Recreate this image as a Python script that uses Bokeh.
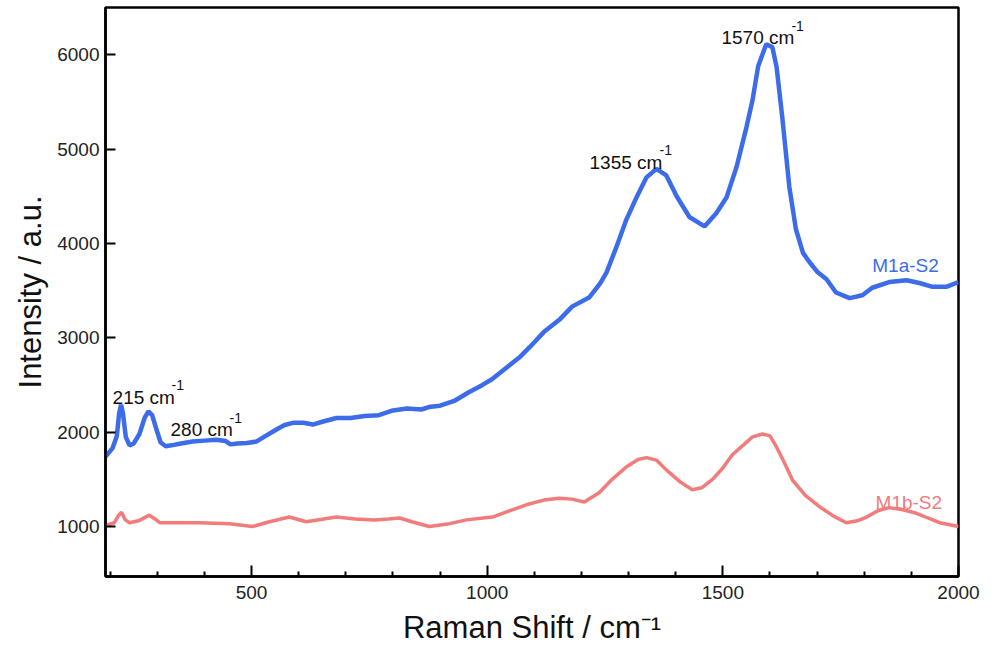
from bokeh.plotting import figure
from bokeh.models import Label, Range1d, FixedTicker
from bokeh.embed import file_html
from bokeh.resources import INLINE

# ---- data ----
shift_a = [190, 205, 214, 219, 223, 227, 233, 241, 250, 262, 273, 281, 289, 298, 307, 318, 330, 350,
           375, 400, 425, 445, 455, 470, 490, 510, 530, 550, 570, 590, 610, 630, 650, 680, 710, 740,
           770, 800, 830, 860, 880, 900, 930, 960, 990, 1010, 1040, 1070, 1090, 1120, 1153, 1180,
           1217, 1240, 1253, 1274, 1295, 1317, 1338, 1359, 1380, 1402, 1429, 1461, 1486, 1508, 1529,
           1550, 1563, 1575, 1592, 1605, 1614, 1626, 1641, 1655, 1670, 1684, 1700, 1720, 1740, 1769,
           1796, 1817, 1853, 1890, 1917, 1945, 1974, 2000]
intensity_a = [1740, 1830, 1960, 2200, 2290, 2200, 1950, 1860, 1880, 1980, 2150, 2220, 2180, 2030,
               1890, 1850, 1860, 1880, 1900, 1910, 1920, 1905, 1870, 1880, 1885, 1900, 1960, 2020,
               2075, 2100, 2100, 2080, 2110, 2150, 2150, 2170, 2180, 2230, 2250, 2240, 2270, 2280,
               2330, 2420, 2500, 2560, 2680, 2800, 2900, 3060, 3190, 3330, 3430, 3580, 3690, 3960,
               4250, 4490, 4700, 4790, 4720, 4500, 4280, 4180, 4320, 4490, 4810, 5230, 5520, 5880,
               6110, 6080, 5870, 5340, 4600, 4150, 3900, 3800, 3700, 3620, 3480, 3420, 3450, 3530,
               3590, 3610, 3580, 3540, 3540, 3590]

shift_b = [190, 209, 218, 224, 232, 241, 260, 283, 295, 305, 332, 389, 453, 502, 538, 580, 616, 680,
           720, 760, 790, 814, 840, 877, 920, 956, 1011, 1050, 1083, 1120, 1153, 1180, 1206, 1238,
           1265, 1295, 1320, 1338, 1360, 1380, 1410, 1435, 1455, 1478, 1500, 1520, 1545, 1563, 1584,
           1600, 1614, 1630, 1648, 1675, 1705, 1735, 1762, 1785, 1805, 1830, 1853, 1880, 1911, 1935,
           1960, 2000]
intensity_b = [1010, 1040, 1120, 1150, 1070, 1040, 1060, 1120, 1080, 1040, 1040, 1040, 1030, 1000,
               1050, 1100, 1050, 1100, 1080, 1070, 1080, 1090, 1050, 1000, 1030, 1070, 1100, 1170,
               1230, 1280, 1300, 1290, 1260, 1360, 1500, 1630, 1710, 1730, 1700, 1600, 1470, 1390,
               1410, 1500, 1620, 1760, 1870, 1950, 1980, 1960, 1840, 1680, 1490, 1330, 1210, 1110,
               1040, 1060, 1100, 1170, 1200, 1180, 1140, 1090, 1040, 1000]

series_names = ["M1a-S2", "M1b-S2"]
peak_labels = ["215 cm", "280 cm", "1355 cm", "1570 cm"]
x_major_ticks = [500, 1000, 1500, 2000]
x_minor_ticks = [200, 300, 400, 600, 700, 800, 900, 1100, 1200, 1300, 1400, 1600, 1700, 1800, 1900]
y_major_ticks = [1000, 2000, 3000, 4000, 5000, 6000]

BLUE = "#3D6CEB"
RED = "#F27B7B"
FONT = "Liberation Sans"

p = figure(frame_width=853, frame_height=569, output_backend="svg", toolbar_location=None,
           x_range=Range1d(190, 2000), y_range=Range1d(470, 6500),
           min_border_left=105, min_border_top=7, min_border_right=25, min_border_bottom=72,
           background_fill_color="white", border_fill_color="white")

p.line(shift_a, intensity_a, line_color=BLUE, line_width=4.5)
p.line(shift_b, intensity_b, line_color=RED, line_width=3.5)

p.xgrid.visible = False
p.ygrid.visible = False
p.outline_line_color = "black"
p.outline_line_width = 2.5
p.outline_line_alpha = 1

for ax in (p.xaxis[0], p.yaxis[0]):
    ax.axis_line_width = 2.5
    ax.axis_line_color = "black"
    ax.major_tick_line_width = 2
    ax.minor_tick_line_width = 2
    ax.major_tick_out = 0
    ax.minor_tick_out = 0
    ax.major_label_text_font = FONT
    ax.major_label_text_font_size = "19px"
    ax.major_label_text_color = "#222222"
    ax.axis_label_text_font = FONT
    ax.axis_label_text_font_style = "normal"
    ax.axis_label_text_font_size = "31px"
    ax.axis_label_text_color = "#111111"

p.xaxis[0].ticker = FixedTicker(ticks=x_major_ticks, minor_ticks=x_minor_ticks)
p.xaxis[0].major_tick_in = 11
p.xaxis[0].minor_tick_in = 5
p.xaxis[0].major_label_standoff = 9
p.xaxis[0].axis_label = "Raman Shift / cm\u207b\u00b9"
p.xaxis[0].axis_label_standoff = 8

p.yaxis[0].ticker = FixedTicker(ticks=y_major_ticks, minor_ticks=[])
p.yaxis[0].major_tick_in = 10
p.yaxis[0].minor_tick_in = 0
p.yaxis[0].major_label_standoff = 6
p.yaxis[0].axis_label = "Intensity / a.u."
p.yaxis[0].axis_label_standoff = 6

# peak annotations: (x, y, text, superscript offset)
ann = [(205, 2372, peak_labels[0], 59), (328, 2023, peak_labels[1], 59),
       (1217, 4859, peak_labels[2], 70), (1497, 6182, peak_labels[3], 70)]
for x, y, t, off in ann:
    p.add_layout(Label(x=x, y=y, text=t, text_font=FONT, text_font_size="19px",
                       text_color="#111111", text_baseline="alphabetic"))
    p.add_layout(Label(x=x, y=y, x_offset=off, y_offset=12, text="-1", text_font=FONT,
                       text_font_size="14px", text_color="#111111", text_baseline="alphabetic"))

p.add_layout(Label(x=1817, y=3769, text=series_names[0], text_font=FONT, text_font_size="19px",
                   text_color=BLUE, text_baseline="alphabetic"))
p.add_layout(Label(x=1824, y=1250, text=series_names[1], text_font=FONT, text_font_size="19px",
                   text_color=RED, text_baseline="alphabetic"))

open("out.html", "w").write(file_html(p, INLINE))
